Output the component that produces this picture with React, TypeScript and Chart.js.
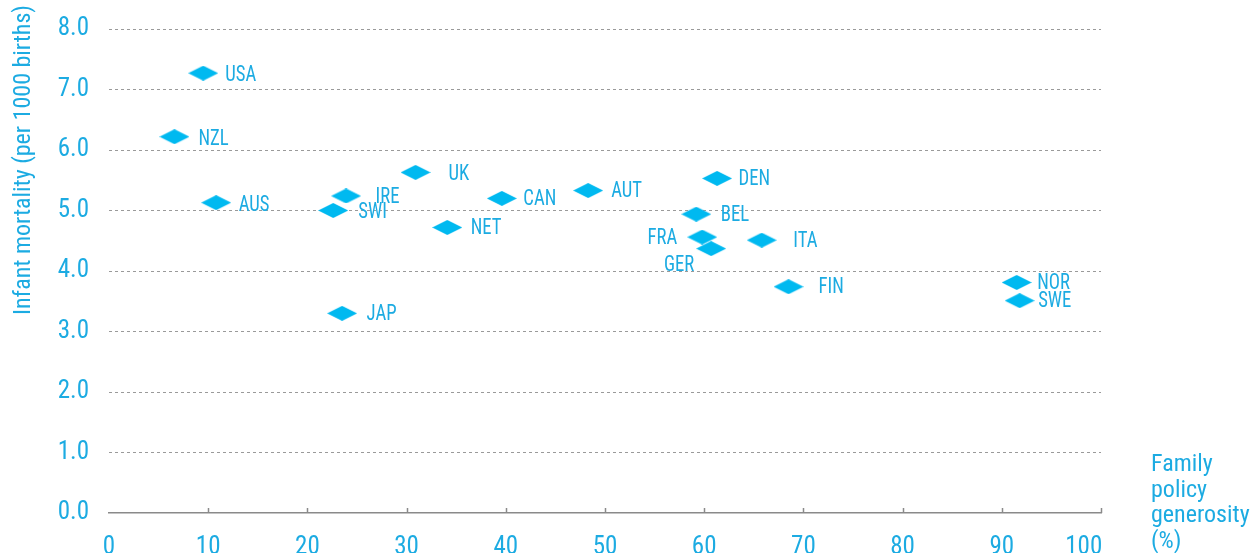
import React, { useEffect, useRef } from "react";
import { Chart, registerables } from "chart.js";

Chart.register(...registerables);

const countries = ["USA", "NZL", "AUS", "UK", "IRE", "SWI", "CAN", "AUT", "NET", "JAP", "DEN", "BEL", "FRA", "GER", "ITA", "FIN", "NOR", "SWE"];
const generosity = [9.5, 6.6, 10.8, 30.9, 23.9, 22.6, 39.6, 48.3, 34.1, 23.5, 61.3, 59.2, 59.8, 60.7, 65.8, 68.5, 91.5, 91.8];
const mortality = [7.27, 6.22, 5.13, 5.63, 5.24, 5.0, 5.2, 5.33, 4.72, 3.3, 5.53, 4.94, 4.56, 4.37, 4.51, 3.74, 3.81, 3.51];
const yTicks = [0, 1, 2, 3, 4, 5, 6, 7, 8];
const xTicks = [0, 10, 20, 30, 40, 50, 60, 70, 80, 90, 100];
const yTitle = "Infant mortality (per 1000 births)";
const xTitleLines = ["Family", "policy", "generosity", "(%)"];

// label placement (pixels relative to marker centre)
const labelPlacement: Record<string, { dx: number; dy: number; align?: CanvasTextAlign }> = {
  USA: { dx: 22, dy: 2.5 },
  NZL: { dx: 24, dy: 2.5 },
  AUS: { dx: 22.5, dy: 2.5 },
  UK: { dx: 33, dy: 2 },
  IRE: { dx: 29.5, dy: 1.5 },
  SWI: { dx: 25, dy: 2 },
  CAN: { dx: 21.5, dy: 1.5 },
  AUT: { dx: 23, dy: 1 },
  NET: { dx: 23.5, dy: 1 },
  JAP: { dx: 24.5, dy: 1.5 },
  DEN: { dx: 21.5, dy: 1.5 },
  BEL: { dx: 24.5, dy: 1.5 },
  FRA: { dx: -25, dy: 1, align: "right" },
  GER: { dx: -17, dy: 16.5, align: "right" },
  ITA: { dx: 31.5, dy: 1.5 },
  FIN: { dx: 30, dy: 1 },
  NOR: { dx: 20.5, dy: 1 },
  SWE: { dx: 18.5, dy: 1 },
};

const CYAN = "#1cabe2";
const MARKER = "#00b9f0";
const FONT = "'Liberation Sans Narrow', 'Arial Narrow', 'Roboto Condensed', Roboto, sans-serif";

function makeDiamond(): HTMLCanvasElement {
  const c = document.createElement("canvas");
  c.width = 30;
  c.height = 15;
  const g = c.getContext("2d")!;
  g.fillStyle = MARKER;
  g.beginPath();
  g.moveTo(0, 7.5);
  g.lineTo(15, 0);
  g.lineTo(30, 7.5);
  g.lineTo(15, 15);
  g.closePath();
  g.fill();
  return c;
}

const overlay = {
  id: "overlay",
  afterDraw(chart: any) {
    const ctx: CanvasRenderingContext2D = chart.ctx;
    const xs = chart.scales.x;
    const area = chart.chartArea;
    ctx.save();
    // inner tick marks on x axis
    ctx.strokeStyle = "#8a8a8a";
    ctx.lineWidth = 1.5;
    xTicks.forEach((v) => {
      if (v === 0) return;
      const x = Math.round(xs.getPixelForValue(v)) + 0.5;
      ctx.beginPath();
      ctx.moveTo(x, area.bottom - 5);
      ctx.lineTo(x, area.bottom);
      ctx.stroke();
    });
    // point labels
    ctx.fillStyle = CYAN;
    ctx.font = `22px ${FONT}`;
    ctx.textBaseline = "middle";
    const meta = chart.getDatasetMeta(0);
    meta.data.forEach((pt: any, i: number) => {
      const name = countries[i];
      const p = labelPlacement[name] || { dx: 22, dy: 1 };
      ctx.save();
      ctx.translate(pt.x + p.dx, pt.y + p.dy);
      ctx.scale(0.85, 1);
      ctx.textAlign = p.align || "left";
      ctx.fillText(name, 0, 0);
      ctx.restore();
    });
    // y title
    ctx.save();
    ctx.font = `24px ${FONT}`;
    ctx.textAlign = "center";
    ctx.textBaseline = "alphabetic";
    ctx.translate(30, 160);
    ctx.rotate(-Math.PI / 2);
    ctx.fillText(yTitle, 0, 0);
    ctx.restore();
    // x title
    ctx.font = `24px ${FONT}`;
    ctx.textAlign = "left";
    ctx.textBaseline = "alphabetic";
    xTitleLines.forEach((line, i) => {
      ctx.fillText(line, 1151, 471 + i * 25.7);
    });
    ctx.restore();
  },
};

export default function App() {
  const ref = useRef<HTMLCanvasElement>(null);
  useEffect(() => {
    if (!ref.current) return;
    const diamond = makeDiamond();
    const chart = new Chart(ref.current, {
      type: "scatter",
      data: {
        datasets: [
          {
            data: generosity.map((x, i) => ({ x, y: mortality[i] })),
            pointStyle: diamond as any,
            pointRadius: 8,
            backgroundColor: MARKER,
            borderColor: MARKER,
          },
        ],
      },
      options: {
        animation: false,
        responsive: false,
        devicePixelRatio: 1,
        layout: { autoPadding: false, padding: { top: 29, right: 155, left: 0, bottom: 0 } },
        plugins: { legend: { display: false }, tooltip: { enabled: false } },
        scales: {
          x: {
            type: "linear",
            min: 0,
            max: 100,
            afterFit: (s: any) => { s.height = 40; s.paddingLeft = 0; s.paddingRight = 0; },
            afterBuildTicks: (s: any) => { s.ticks = xTicks.map((v) => ({ value: v })); },
            grid: { display: false },
            border: { display: true, color: "#8a8a8a", width: 1.5 },
            ticks: {
              color: CYAN,
              font: { family: FONT, size: 25 },
              padding: 12,
              maxRotation: 0,
              callback: (v: any) => (v === 100 ? "100      " : String(v)),
            },
          },
          y: {
            type: "linear",
            min: 0,
            max: 8,
            afterFit: (s: any) => { s.width = 109; s.paddingTop = 0; s.paddingBottom = 0; },
            afterBuildTicks: (s: any) => { s.ticks = yTicks.map((v) => ({ value: v })); },
            grid: {
              drawTicks: false,
              color: (c: any) => (c.tick && c.tick.value === 0 ? "rgba(0,0,0,0)" : "#9a9a9a"),
              lineWidth: 1,
            },
            border: { display: false, dash: [3, 3] },
            ticks: {
              color: CYAN,
              font: { family: FONT, size: 25 },
              padding: 20,
              callback: (v: any) => Number(v).toFixed(1),
            },
          },
        },
      } as any,
      plugins: [overlay],
    });
    return () => chart.destroy();
  }, []);
  return (
    <div style={{ position: "fixed", left: 0, top: 0, width: 1256, height: 553, background: "#fff" }}>
      <canvas ref={ref} width={1256} height={553} style={{ width: 1256, height: 553 }} />
    </div>
  );
}
